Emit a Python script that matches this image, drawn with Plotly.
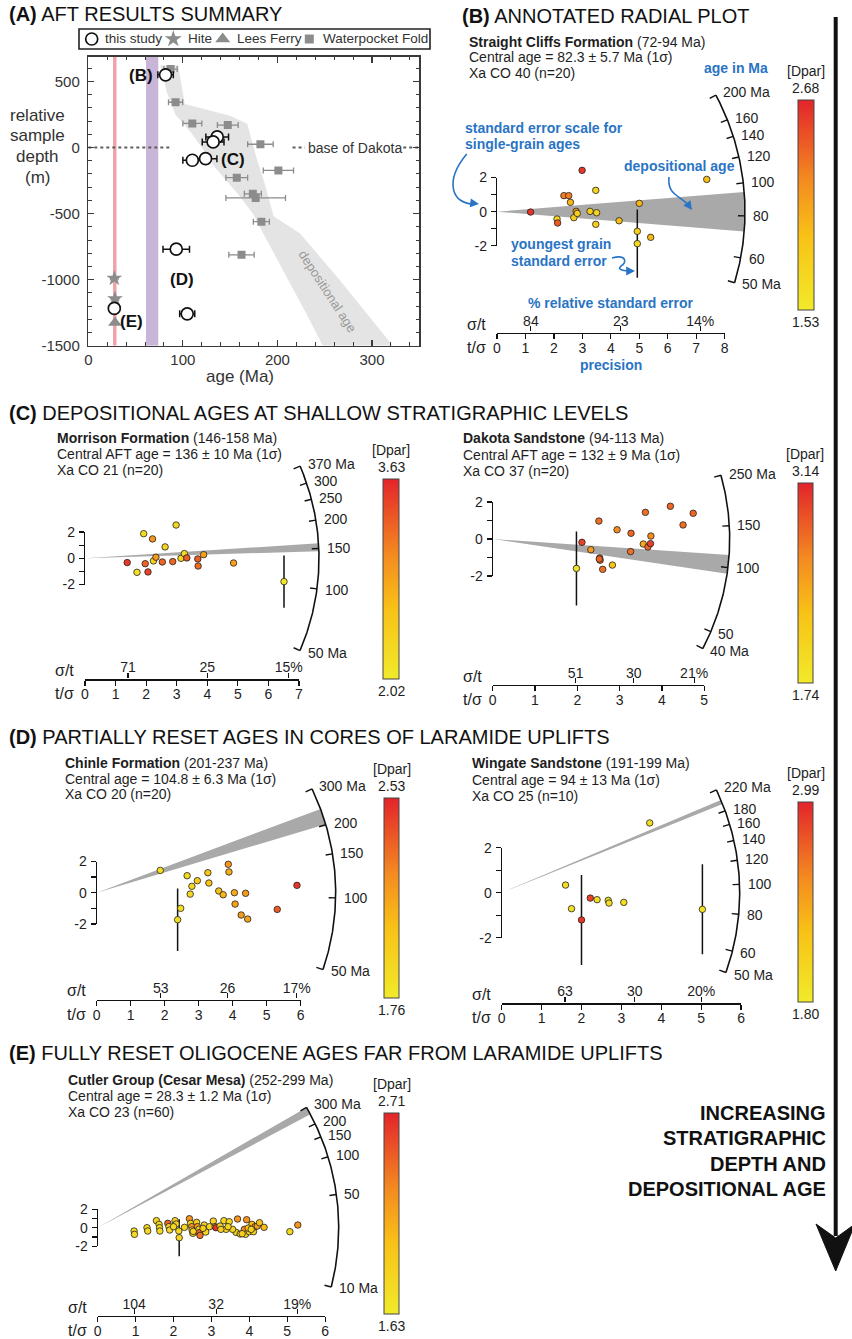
import numpy as np
import plotly.graph_objects as go

W, H = 852, 1339
FONT = "Liberation Sans, Arial, Helvetica, sans-serif"
NARROW = "Liberation Sans Narrow, Liberation Sans, Arial, sans-serif"
BLUE = "#2a74c4"
INK = "#1e1e1e"
CSCALE = [[0.0, "#f1ea2a"], [0.35, "#f8c216"], [0.62, "#f48b20"], [1.0, "#e3242b"]]

# ---------------- Panel A data (age in Ma, relative depth in m) ----------------
A_XRANGE = [0, 350]
A_YRANGE = [-1500, 688]
A_XTICKS = [0, 100, 200, 300]
A_YTICKS = [-1500, -1000, -500, 0, 500]
this_age = [81.7, 136.3, 132.0, 110.0, 124.0, 93.0, 104.6, 27.5]
this_depth = [551, 81, 43, -96, -84, -769, -1259, -1218]
this_err = [8.2, 12, 11.5, 10, 12, 14, 8, 2]
hite_age = [27.5, 28.2]
hite_depth = [-990, -1145]
hite_err = [4, 4]
lees_age = [28.2]
lees_depth = [-1327]
wf_age = [87, 92.3, 110, 147.5, 182, 201, 157, 174, 177, 183, 162]
wf_depth = [594, 343, 183, 170, 25, -173, -228, -350, -381, -561, -812]
wf_err = [7, 7.5, 10, 11, 13.5, 16, 11.5, 9, 31.5, 8.5, 13.4]
dep_left_age = [76, 83, 92, 108, 120, 134, 158, 174, 185, 204, 230, 248]
dep_left_depth = [623, 420, 250, 120, 0, -150, -350, -500, -650, -900, -1250, -1500]
dep_right_age = [322, 266, 224, 196, 186, 178, 172, 168, 150, 102, 95]
dep_right_depth = [-1500, -1005, -650, -520, -260, -80, 80, 180, 240, 330, 623]
oligocene_age = 28
laramide_band = [61, 74]
dakota_dots_age = [0, 86, None, 216, 229, None, 333, 350]
dakota_dots_depth = [0, 0, None, 0, 0, None, 0, 0]
legend_names = ["this study", "Hite", "Lees Ferry", "Waterpocket Fold"]

# ---------------- Radial plot data ----------------
SC_x = [1.18, 2.99, 2.35, 2.52, 2.58, 3.47, 2.11, 2.13, 2.70, 2.78, 2.82, 3.27, 3.50, 3.47, 4.29, 5.00, 4.93, 4.93, 5.40, 7.37]
SC_y = [-0.02, 2.42, 0.94, 0.94, 0.55, 1.25, -0.43, -0.66, -0.35, 0.02, -0.10, 0.02, -0.06, -0.74, -0.53, 0.49, -1.15, -1.87, -1.50, 1.89]
SC_dpar = [2.62, 2.60, 2.30, 2.30, 2.00, 1.75, 1.75, 2.45, 1.80, 2.15, 1.80, 1.80, 1.75, 1.80, 1.95, 2.00, 1.80, 1.70, 2.00, 1.95]
SC_bar = [17]

MO_x = [1.38, 1.70, 1.92, 1.97, 2.06, 2.21, 2.24, 2.32, 2.53, 2.62, 2.87, 2.98, 3.14, 3.25, 3.33, 3.69, 3.70, 3.88, 4.86, 6.51]
MO_y = [-0.33, -1.07, 1.88, -0.41, -1.04, 1.48, -0.20, 0.08, -0.28, 0.87, -0.25, 2.54, 0.0, 0.36, 0.03, -0.05, -0.59, 0.28, -0.36, -1.78]
MO_dpar = [3.50, 2.15, 2.20, 3.25, 3.45, 2.95, 2.30, 2.90, 3.25, 2.35, 3.25, 2.30, 2.30, 2.25, 3.30, 3.30, 3.20, 2.85, 2.85, 2.10]
MO_bar = [19]

DK_x = [1.98, 2.11, 2.32, 2.51, 2.53, 2.54, 2.60, 2.83, 2.94, 3.27, 3.26, 3.56, 3.61, 3.67, 3.73, 3.74, 4.20, 4.50, 4.74, 2.52]
DK_y = [-1.59, -0.18, -0.58, 0.97, -1.03, -1.15, -1.64, -1.41, 0.50, 0.31, -0.68, -0.27, 1.44, -0.43, -0.25, 0.16, 1.77, 0.76, 1.39, -1.08]
DK_dpar = [1.85, 3.00, 2.50, 2.75, 2.80, 2.80, 2.75, 2.20, 2.60, 2.80, 2.75, 2.40, 2.75, 2.80, 3.00, 2.60, 2.80, 2.75, 2.80, 2.80]
DK_bar = [0]

CH_x = [1.87, 2.38, 2.47, 2.66, 2.75, 2.80, 2.96, 3.27, 3.30, 3.59, 3.72, 3.87, 3.89, 4.05, 4.07, 4.25, 4.38, 4.44, 5.31, 5.89]
CH_y = [1.43, -1.73, -1.00, 1.09, -0.09, 0.41, 0.77, 1.28, 0.62, 0.11, -0.13, 1.82, 1.33, 0.00, -0.73, -1.43, -0.04, -1.69, -1.07, 0.47]
CH_dpar = [1.85, 1.85, 1.85, 1.88, 1.88, 1.90, 1.98, 2.00, 2.00, 2.02, 2.08, 2.20, 2.10, 2.12, 2.15, 2.18, 2.18, 2.15, 2.38, 2.48]
CH_bar = [1]

WG_x = [1.60, 1.75, 2.00, 2.22, 2.39, 2.67, 2.69, 3.06, 3.71, 5.03]
WG_y = [0.34, -0.71, -1.21, -0.24, -0.31, -0.34, -0.46, -0.43, 3.10, -0.74]
WG_dpar = [1.92, 1.90, 2.92, 2.85, 1.95, 1.92, 1.95, 1.95, 1.95, 1.90]
WG_bar = [2, 9]

CU_x = [0.96, 0.97, 1.30, 1.32, 1.55, 1.62, 1.63, 1.64, 1.85, 1.88, 1.90, 2.04, 2.07, 2.14, 2.15,
        2.29, 2.42, 2.45, 2.48, 2.49, 2.51, 2.61, 2.63, 2.67, 2.68, 2.70, 2.81, 2.85, 2.95, 3.05,
        3.10, 3.12, 3.23, 3.33, 3.39, 3.47, 3.65, 3.69, 3.76, 3.87, 3.90, 3.93, 4.00, 4.07, 4.11,
        4.15, 4.21, 4.27, 4.39, 5.07, 5.28, 2.52, 3.25, 3.56, 3.81, 3.97, 4.05, 2.78, 2.00, 3.44]
CU_y = [-0.36, -0.72, 0.00, -0.36, 0.76, 0.36, 0.00, -0.36, 0.47, 0.11, -0.25, 0.76, 0.40, -0.36, -1.08,
        0.04, 0.97, 0.47, 0.11, -0.25, -0.61, 0.58, 0.11, -0.18, -0.54, -0.83, 0.29, -0.47, 0.11, 0.72,
        0.11, 0.00, 0.18, 0.76, -0.18, 0.65, -0.50, 0.94, -0.68, -0.18, -0.72, 0.86, -0.43, 0.36, -0.43,
        0.11, 0.18, 0.54, 0.04, -0.43, 0.29, -0.40, -0.18, -0.18, -0.65, -0.04, -0.18, -0.07, 0.11, 0.11]
CU_dpar = [1.78, 1.80, 1.82, 1.80, 1.85, 1.80, 1.82, 1.78, 2.45, 1.85, 1.80, 1.82, 1.85, 1.80, 1.82,
           1.85, 2.25, 1.85, 2.25, 1.80, 1.85, 1.90, 2.25, 1.85, 2.45, 2.40, 1.85, 1.82, 1.80, 1.85,
           2.00, 2.65, 1.85, 1.80, 1.85, 1.82, 1.85, 2.25, 1.80, 2.30, 1.82, 2.25, 1.85, 2.00, 1.85,
           2.25, 2.20, 2.00, 2.05, 1.80, 2.25, 1.85, 1.90, 1.85, 1.90, 1.95, 1.85, 1.90, 1.80, 1.85]
CU_bar = [14]

RADIAL = [
    dict(x=SC_x, y=SC_y, dpar=SC_dpar, bar=SC_bar, central=82.3, dep=(72, 94), drange=(1.53, 2.68),
         ticks=[50, 60, 80, 100, 120, 140, 160, 200], xmax=8, pct=[84, 23, 14],
         lines=["<b>Straight Cliffs Formation</b> (72-94 Ma)", "Central age = 82.3 ± 5.7 Ma (1σ)", "Xa CO 40 (n=20)"]),
    dict(x=MO_x, y=MO_y, dpar=MO_dpar, bar=MO_bar, central=136, dep=(146, 158), drange=(2.02, 3.63),
         ticks=[50, 100, 150, 200, 250, 300, 370], xmax=7, pct=[71, 25, 15],
         lines=["<b>Morrison Formation</b> (146-158 Ma)", "Central AFT age = 136 ± 10 Ma (1σ)", "Xa CO 21 (n=20)"]),
    dict(x=DK_x, y=DK_y, dpar=DK_dpar, bar=DK_bar, central=132, dep=(94, 113), drange=(1.74, 3.14),
         ticks=[40, 50, 100, 150, 250], xmax=5, pct=[51, 30, 21],
         lines=["<b>Dakota Sandstone</b> (94-113 Ma)", "Central AFT age = 132 ± 9 Ma (1σ)", "Xa CO 37 (n=20)"]),
    dict(x=CH_x, y=CH_y, dpar=CH_dpar, bar=CH_bar, central=104.8, dep=(201, 237), drange=(1.76, 2.53),
         ticks=[50, 100, 150, 200, 300], xmax=6, pct=[53, 26, 17],
         lines=["<b>Chinle Formation</b> (201-237 Ma)", "Central age = 104.8 ± 6.3 Ma (1σ)", "Xa CO 20 (n=20)"]),
    dict(x=WG_x, y=WG_y, dpar=WG_dpar, bar=WG_bar, central=94, dep=(191, 199), drange=(1.80, 2.99),
         ticks=[50, 60, 80, 100, 120, 140, 160, 180, 220], xmax=6, pct=[63, 30, 20],
         lines=["<b>Wingate Sandstone</b> (191-199 Ma)", "Central age = 94 ± 13 Ma (1σ)", "Xa CO 25 (n=10)"]),
    dict(x=CU_x, y=CU_y, dpar=CU_dpar, bar=CU_bar, central=28.3, dep=(252, 299), drange=(1.63, 2.71),
         ticks=[10, 50, 100, 150, 200, 300], xmax=6, pct=[104, 32, 19],
         lines=["<b>Cutler Group (Cesar Mesa)</b> (252-299 Ma)", "Central age = 28.3 ± 1.2 Ma (1σ)", "Xa CO 23 (n=60)"]),
]

# layout (pixel placement) of each radial plot
STYLE = [
    dict(ox=497, oy=211.7, sx=28.46, sy=17.08, R=248, axy=333, cb=(797.7, 813.3, 100, 310), info=(467, 42), dl=15.5),
    dict(ox=85, oy=558.3, sx=30.57, sy=13.1, R=234, axy=679.3, cb=(383, 399, 479, 679), info=(55, 438.3), dl=16),
    dict(ox=492.7, oy=539, sx=42.3, sy=18.5, R=237, axy=685, cb=(797.7, 812.7, 483, 683), info=(461, 438.3), dl=16.5),
    dict(ox=96.7, oy=892.7, sx=34, sy=15.6, R=239, axy=1000, cb=(384, 399, 797.7, 997.7), info=(63.3, 763.3), dl=15.5),
    dict(ox=501.7, oy=892.7, sx=39.9, sy=22.5, R=238, axy=1003.3, cb=(798, 813, 802.3, 1002.3), info=(470, 763.3), dl=16.5),
    dict(ox=97.7, oy=1227.7, sx=37.9, sy=9.25, R=241, axy=1316, cb=(384, 399, 1113.3, 1314), info=(65.7, 1080), dl=16),
]
# legend placement (pixels): box, symbol centres, text starts
LEG_BOX = (79, 29, 430, 49)
LEG_SYM_X = [91.7, 173.3, 222.7, 309.3]
LEG_TXT_X = [103.3, 185.7, 235, 320.7]


def PX(x):
    return x / W


def PY(y):
    return 1.0 - y / H


traces, annotations, shapes = [], [], []
layout_axes = {}
cnt = {"x": 1, "y": 1}


def new_ax(k):
    cnt[k] += 1
    return cnt[k]


def nm(k, n):
    return k if n == 1 else f"{k}{n}"


def key(k, n):
    return f"{k}axis" if n == 1 else f"{k}axis{n}"


def ann(x, y, text, size=14, color=INK, xanchor="left", yanchor="middle", xref="paper", yref="paper",
        family=FONT, **kw):
    if xref == "paper":
        x = PX(x)
    if yref == "paper":
        y = PY(y)
    annotations.append(dict(x=x, y=y, xref=xref, yref=yref, text=text, showarrow=False, xanchor=xanchor,
                            yanchor=yanchor, font=dict(size=size, color=color, family=family), **kw))


def path_px(cmds):
    out = []
    for c, pts in cmds:
        if not pts:
            out.append(c)
            continue
        for x, y in pts:
            out.append(f"{c}{PX(x):.5f},{PY(y):.5f}")
    return " ".join(out)


def path_curve(start, segs):
    s = f"M{PX(start[0]):.5f},{PY(start[1]):.5f}"
    for seg in segs:
        s += " C" + " ".join(f"{PX(x):.5f},{PY(y):.5f}" for x, y in seg)
    return s


def empty(xa, ya):
    traces.append(go.Scatter(x=[None], y=[None], xaxis=xa, yaxis=ya, showlegend=False, hoverinfo="skip",
                             mode="markers"))


# ======================= Panel A =======================
layout_axes["xaxis"] = dict(
    domain=[PX(88.3), PX(419.3)], range=A_XRANGE, anchor="y", showline=True, linecolor="#3a3a3a", linewidth=1.5,
    mirror="ticks", ticks="inside", ticklen=6, tickwidth=1.2, tickcolor="#3a3a3a", tickvals=A_XTICKS,
    ticktext=[str(v) for v in A_XTICKS], tickfont=dict(size=15, color="#333"),
    minor=dict(tickmode="linear", tick0=0, dtick=20, ticks="inside", ticklen=3.5, tickwidth=1, tickcolor="#3a3a3a",
               showgrid=False),
    showgrid=False, zeroline=False, fixedrange=True)
layout_axes["yaxis"] = dict(
    domain=[PY(345.7), PY(56.7)], range=A_YRANGE, anchor="x", showline=True, linecolor="#3a3a3a", linewidth=1.5,
    mirror="ticks", ticks="inside", ticklen=6, tickwidth=1.2, tickcolor="#3a3a3a", tickvals=A_YTICKS,
    ticktext=[str(v) for v in A_YTICKS], tickfont=dict(size=15, color="#333"), ticklabelstandoff=4,
    minor=dict(tickmode="linear", tick0=0, dtick=100, ticks="inside", ticklen=3.5, tickwidth=1, tickcolor="#3a3a3a",
               showgrid=False),
    showgrid=False, zeroline=False, fixedrange=True)

yr0, yr1 = A_YRANGE
traces.append(go.Scatter(x=[laramide_band[0], laramide_band[1], laramide_band[1], laramide_band[0], laramide_band[0]],
                         y=[yr0, yr0, yr1, yr1, yr0], fill="toself", fillcolor="#c8b5d8", line=dict(width=0),
                         mode="lines", showlegend=False, hoverinfo="skip"))
traces.append(go.Scatter(x=[oligocene_age, oligocene_age], y=A_YRANGE, mode="lines",
                         line=dict(color="#f0a2aa", width=3.5), showlegend=False, hoverinfo="skip"))
traces.append(go.Scatter(x=dep_left_age + dep_right_age + dep_left_age[:1],
                         y=dep_left_depth + dep_right_depth + dep_left_depth[:1], fill="toself",
                         fillcolor="#e4e4e4", line=dict(width=0), mode="lines", showlegend=False, hoverinfo="skip"))
traces.append(go.Scatter(x=dakota_dots_age, y=dakota_dots_depth, mode="lines",
                         line=dict(color="#5e5e5e", width=2, dash="dot"), showlegend=False, hoverinfo="skip"))
GREY = "#8c8c8c"
M_THIS = dict(symbol="circle", size=12, color="white", line=dict(color="#111", width=1.7))
M_HITE = dict(symbol="star", size=12, color=GREY)
M_LEES = dict(symbol="triangle-up", size=12, color=GREY)
M_WF = dict(symbol="square", size=8, color=GREY)
traces.append(go.Scatter(x=wf_age, y=wf_depth, mode="markers",
                         error_x=dict(type="data", array=wf_err, visible=True, thickness=1.3, width=3, color=GREY),
                         marker=M_WF, showlegend=False, hoverinfo="skip"))
traces.append(go.Scatter(x=hite_age, y=hite_depth, mode="markers",
                         error_x=dict(type="data", array=hite_err, visible=True, thickness=1.2, width=2, color=GREY),
                         marker=M_HITE, showlegend=False, hoverinfo="skip"))
traces.append(go.Scatter(x=lees_age, y=lees_depth, mode="markers", marker=M_LEES, showlegend=False, hoverinfo="skip"))
traces.append(go.Scatter(x=this_age, y=this_depth, mode="markers",
                         error_x=dict(type="data", array=this_err, visible=True, thickness=1.5, width=3.5, color="#111"),
                         marker=M_THIS, showlegend=False, hoverinfo="skip"))

# legend box (own pixel-scaled axes)
xl, yl = new_ax("x"), new_ax("y")
layout_axes[key("x", xl)] = dict(domain=[PX(LEG_BOX[0]), PX(LEG_BOX[2])], range=[LEG_BOX[0], LEG_BOX[2]],
                                 visible=False, anchor=nm("y", yl), fixedrange=True)
layout_axes[key("y", yl)] = dict(domain=[PY(LEG_BOX[3]), PY(LEG_BOX[1])], range=[LEG_BOX[3], LEG_BOX[1]],
                                 visible=False, anchor=nm("x", xl), fixedrange=True)
ymid = (LEG_BOX[1] + LEG_BOX[3]) / 2
for sx_, mk in zip(LEG_SYM_X, [M_THIS, dict(M_HITE, size=13), dict(M_LEES, size=13), dict(M_WF, size=9)]):
    traces.append(go.Scatter(x=[sx_], y=[ymid], mode="markers", marker=mk, xaxis=nm("x", xl), yaxis=nm("y", yl),
                             showlegend=False, hoverinfo="skip", cliponaxis=False))
for tx_, name in zip(LEG_TXT_X, legend_names):
    ann(tx_, ymid, name, size=13.5, color="#333")
shapes.append(dict(type="rect", xref="paper", yref="paper", x0=PX(LEG_BOX[0]), x1=PX(LEG_BOX[2]),
                   y0=PY(LEG_BOX[3]), y1=PY(LEG_BOX[1]), line=dict(color="#222", width=1.6)))

for txt, ax_, ay_ in [("(B)", 56, 548), ("(C)", 153, -90), ("(D)", 99, -1000), ("(E)", 46, -1314)]:
    ann(ax_, ay_, f"<b>{txt}</b>", size=17, xref="x", yref="y", xanchor="center", family=NARROW, color="#111")
ann(253, -1090, "depositional age", size=13, color="#9a9a9a", xref="x", yref="y", xanchor="center", textangle=57)
ann(281.5, 0, "base of Dakota", size=14, color="#333", xref="x", yref="y", xanchor="center")
for i, w in enumerate(["relative", "sample", "depth", "(m)"]):
    ann(37, 115 + i * 20.7, w, size=17, color="#333", xanchor="center")
ann(240, 376, "age (Ma)", size=17, color="#333", xanchor="center")

# ======================= Radial plots =======================
for d, s in zip(RADIAL, STYLE):
    ox, oy, sx, sy, R = s["ox"], s["oy"], s["sx"], s["sy"], s["R"]
    t0 = d["central"]

    def arcpt(t, r, t0=t0, sx=sx, sy=sy):
        p = np.arctan(np.log(t / t0) * sy / sx)
        return r * np.cos(p) / sx, r * np.sin(p) / sy

    xm, ym = new_ax("x"), new_ax("y")
    X0, X1 = ox - 8, min(W - 2, ox + R + 15)
    Y0, Y1 = max(2, oy - R - 6), min(H - 2, oy + R + 6)
    layout_axes[key("x", xm)] = dict(domain=[PX(X0), PX(X1)], range=[(X0 - ox) / sx, (X1 - ox) / sx],
                                     visible=False, anchor=nm("y", ym), fixedrange=True)
    layout_axes[key("y", ym)] = dict(domain=[PY(Y1), PY(Y0)], range=[(oy - Y1) / sy, (oy - Y0) / sy],
                                     visible=False, anchor=nm("x", xm), fixedrange=True)
    XA, YA = nm("x", xm), nm("y", ym)

    # depositional-age wedge
    ts = np.exp(np.linspace(np.log(d["dep"][0]), np.log(d["dep"][1]), 30))
    wpts = [arcpt(t, R) for t in ts]
    traces.append(go.Scatter(x=[0] + [p[0] for p in wpts] + [0], y=[0] + [p[1] for p in wpts] + [0],
                             fill="toself", fillcolor="#a9a9a9", line=dict(width=0), mode="lines",
                             xaxis=XA, yaxis=YA, showlegend=False, hoverinfo="skip"))
    # age arc
    ta = np.exp(np.linspace(np.log(min(d["ticks"])), np.log(max(d["ticks"])), 150))
    apts = [arcpt(t, R) for t in ta]
    traces.append(go.Scatter(x=[p[0] for p in apts], y=[p[1] for p in apts], mode="lines",
                             line=dict(color="#111", width=1.6), xaxis=XA, yaxis=YA, showlegend=False,
                             hoverinfo="skip"))
    tx, ty = [], []
    for t in d["ticks"]:
        a, b = arcpt(t, R - 7), arcpt(t, R)
        tx += [a[0], b[0], None]
        ty += [a[1], b[1], None]
        lab = f"{t} Ma" if t in (min(d["ticks"]), max(d["ticks"])) else f"{t}"
        lx, ly = arcpt(t, R + 6)
        ann(lx, ly, lab, size=14, xref=XA, yref=YA, xanchor="left")
    traces.append(go.Scatter(x=tx, y=ty, mode="lines", line=dict(color="#111", width=1.4), xaxis=XA, yaxis=YA,
                             showlegend=False, hoverinfo="skip"))
    # single grain points
    cb = s["cb"]
    err = [2 if i in d["bar"] else 0 for i in range(len(d["x"]))]
    traces.append(go.Scatter(
        x=d["x"], y=d["y"], mode="markers", xaxis=XA, yaxis=YA, showlegend=False, hoverinfo="skip",
        error_y=dict(type="data", array=err, visible=True, width=0, thickness=1.5, color="#111"),
        marker=dict(size=6.5, color=d["dpar"], colorscale=CSCALE, cmin=d["drange"][0], cmax=d["drange"][1],
                    line=dict(color="#222", width=0.8), showscale=True,
                    colorbar=dict(x=PX(cb[0]), xanchor="left", xpad=0, y=PY((cb[2] + cb[3]) / 2), yanchor="middle",
                                  ypad=0, len=cb[3] - cb[2], lenmode="pixels", thickness=cb[1] - cb[0],
                                  thicknessmode="pixels", outlinewidth=1, outlinecolor="#444",
                                  showticklabels=False, ticks="", borderwidth=0))))
    cbx = (cb[0] + cb[1]) / 2
    ann(cbx, cb[2] - 29, "[Dpar]", size=14, xanchor="center")
    ann(cbx, cb[2] - 12, f"{d['drange'][1]:.2f}", size=14, xanchor="center")
    ann(cbx, cb[3] + 12, f"{d['drange'][0]:.2f}", size=14, xanchor="center")

    # standardised-estimate bracket (y axis between -2 and 2)
    xd, yb = new_ax("x"), new_ax("y")
    layout_axes[key("x", xd)] = dict(domain=[PX(ox), PX(ox) + 0.001], range=[0, 1], visible=False,
                                     anchor=nm("y", yb), fixedrange=True)
    layout_axes[key("y", yb)] = dict(domain=[PY(oy + 2 * sy), PY(oy - 2 * sy)], range=[-2, 2], anchor=nm("x", xd),
                                     side="left", showline=True, linecolor="#111", linewidth=1.2, ticks="outside",
                                     ticklen=5, tickwidth=1.2, tickcolor="#111", tickvals=[-2, -1, 0, 1, 2],
                                     ticktext=["-2", "", "0", "", "2"], tickfont=dict(size=14, color=INK),
                                     showgrid=False, zeroline=False, fixedrange=True, ticklabelstandoff=1)
    empty(nm("x", xd), nm("y", yb))

    # precision axis (t/sigma) and relative error axis (sigma/t)
    xb, xt, yd = new_ax("x"), new_ax("x"), new_ax("y")
    dom = [PX(ox), PX(ox + d["xmax"] * sx)]
    layout_axes[key("y", yd)] = dict(domain=[PY(s["axy"]), PY(s["axy"]) + 0.0004], range=[0, 1], visible=False,
                                     anchor=nm("x", xb), fixedrange=True)
    layout_axes[key("x", xb)] = dict(domain=dom, range=[0, d["xmax"]], anchor=nm("y", yd), side="bottom",
                                     showline=True, linecolor="#111", linewidth=1.3, ticks="outside", ticklen=5,
                                     tickwidth=1.2, tickcolor="#111", tickvals=list(range(d["xmax"] + 1)),
                                     tickfont=dict(size=14, color=INK), showgrid=False, zeroline=False,
                                     fixedrange=True, ticklabelstandoff=-3)
    pv = [100.0 / p for p in d["pct"]]
    pt = [str(p) for p in d["pct"]]
    pt[-1] += "%"
    layout_axes[key("x", xt)] = dict(domain=dom, range=[0, d["xmax"]], anchor=nm("y", yd), overlaying=nm("x", xb),
                                     side="top", showline=False, ticks="outside", ticklen=5, tickwidth=1.2,
                                     tickcolor="#111", tickvals=pv, ticktext=pt, tickfont=dict(size=14, color=INK),
                                     showgrid=False, zeroline=False, fixedrange=True, ticklabelstandoff=-5)
    empty(nm("x", xb), nm("y", yd))
    empty(nm("x", xt), nm("y", yd))
    ann(ox - 9, s["axy"] - 9, "σ/t", size=16, xanchor="right")
    ann(ox - 9, s["axy"] + 14, "t/σ", size=16, xanchor="right")

    # sample information
    ix, iy = s["info"]
    for i, ln in enumerate(d["lines"]):
        ann(ix, iy + i * s["dl"], ln, size=14)

# ======================= Titles and annotations =======================
ann(7, 14, "<b>(A)</b> AFT RESULTS SUMMARY", size=20, color="#111")
ann(460, 16, "<b>(B)</b> ANNOTATED RADIAL PLOT", size=20, color="#111")
ann(7, 413, "<b>(C)</b> DEPOSITIONAL AGES AT SHALLOW STRATIGRAPHIC LEVELS", size=20, color="#111")
ann(7, 737, "<b>(D)</b> PARTIALLY RESET AGES IN CORES OF LARAMIDE UPLIFTS", size=20, color="#111")
ann(7, 1053, "<b>(E)</b> FULLY RESET OLIGOCENE AGES FAR FROM LARAMIDE UPLIFTS", size=20, color="#111")

ann(736, 68, "<b>age in Ma</b>", size=14, color=BLUE, xanchor="center")
ann(463, 128, "<b>standard error scale for</b>", size=14, color=BLUE)
ann(463, 144.5, "<b>single-grain ages</b>", size=14, color=BLUE)
ann(622, 166, "<b>depositional age</b>", size=14, color=BLUE)
ann(509, 244, "<b>youngest grain</b>", size=14, color=BLUE)
ann(509, 261, "<b>standard error</b>", size=14, color=BLUE)
ann(611, 303, "<b>% relative standard error</b>", size=14, color=BLUE, xanchor="center")
ann(611, 365, "<b>precision</b>", size=14, color=BLUE, xanchor="center")

for start, segs, tip, off in [
    ((466.7, 154), [[(445, 180), (450, 205), (476, 204)]], (479, 204), (-8, -1)),
    ((669, 177), [[(667, 196), (681, 195), (690, 207)]], (692, 210), (-5, -7)),
    ((612, 258), [[(627, 254), (627, 263), (621, 266)], [(616, 270), (625, 271), (632, 271)]], (635, 271), (-8, 0)),
]:
    shapes.append(dict(type="path", xref="paper", yref="paper", path=path_curve(start, segs),
                       line=dict(color=BLUE, width=1.6)))
    annotations.append(dict(x=PX(tip[0]), y=PY(tip[1]), xref="paper", yref="paper", ax=off[0], ay=off[1], text="",
                            showarrow=True, arrowhead=2, arrowsize=1.1, arrowwidth=1.6, arrowcolor=BLUE, standoff=0))

# big arrow on right
shapes.append(dict(type="line", xref="paper", yref="paper", x0=PX(835.7), x1=PX(835.7), y0=PY(17), y1=PY(1236),
                   line=dict(color="#111", width=4)))
shapes.append(dict(type="path", xref="paper", yref="paper", fillcolor="#111", line=dict(color="#111", width=1),
                   path=path_px([("M", [(816, 1224)]), ("L", [(835.7, 1238), (855, 1224), (835.7, 1271)]),
                                 ("Z", [])])))
for i, w in enumerate(["INCREASING", "STRATIGRAPHIC", "DEPTH AND", "DEPOSITIONAL AGE"]):
    ann(828, 1113 + i * 25.3, f"<b>{w}</b>", size=20, color="#111", xanchor="right")

fig = go.Figure(data=traces)
fig.update_layout(
    width=W, height=H, margin=dict(l=0, r=0, t=0, b=0, autoexpand=False), paper_bgcolor="white",
    plot_bgcolor="rgba(0,0,0,0)", font=dict(family=FONT, size=14, color=INK), hovermode=False,
    showlegend=False, annotations=annotations, shapes=shapes, **layout_axes)
fig.write_html("out.html", config={"displayModeBar": False, "staticPlot": True},
               post_script="document.body.style.margin='0';document.body.style.padding='0';"
                           "document.body.style.overflow='hidden';")
